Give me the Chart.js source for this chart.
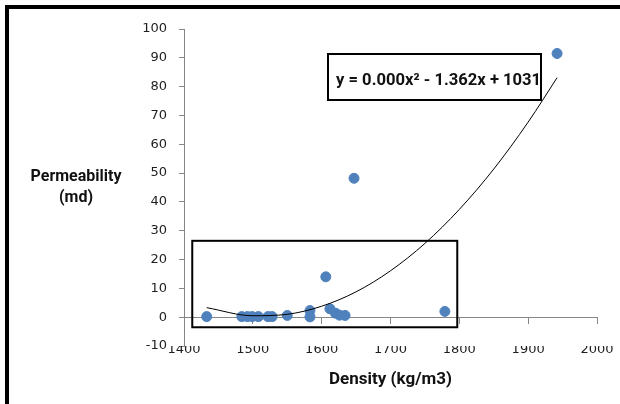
<!DOCTYPE html>
<html lang="en">
<head>
    <meta charset="UTF-8">
    <title>Permeability vs Density</title>
    <script src="https://cdn.jsdelivr.net/npm/chart.js"></script>
    <style>
        body {
            margin: 0;
            background: #fff;
        }
        .wrap {
            position: relative;
            width: 620px;
            height: 404px;
        }
        .frame {
            position: absolute;
            left: 5px;
            top: 5px;
            right: 0;
            bottom: 0;
            border-top: 4px solid #000;
            border-left: 4px solid #000;
            pointer-events: none;
        }
    </style>
</head>
<body>
    <div class="wrap">
        <canvas id="chart" width="620" height="404"></canvas>
        <div class="frame"></div>
    </div>
    <script>
        // measured samples
        const density = [1433, 1484, 1492, 1499, 1508, 1522, 1528, 1550, 1583, 1583, 1606, 1612, 1620, 1626, 1634, 1647, 1779, 1942];
        const permeability = [0.2, 0.2, 0.2, 0.2, 0.2, 0.2, 0.2, 0.6, 2.3, 0.1, 14.0, 2.9, 1.4, 0.7, 0.6, 48.2, 2.0, 91.5];

        // polynomial trendline
        const trendDensity = [1433, 1500, 1550, 1600, 1650, 1700, 1750, 1800, 1850, 1900, 1942];
        const trendPerm = [3.3, 0.5, 1.0, 3.8, 8.8, 16.1, 25.6, 37.4, 51.4, 67.7, 83.1];
        const equationText = 'y = 0.000x\u00b2 - 1.362x + 1031.';

        const xTickValues = [1400, 1500, 1600, 1700, 1800, 1900, 2000];
        const yTickValues = [-10, 0, 10, 20, 30, 40, 50, 60, 70, 80, 90, 100];

        // highlighted region (data units)
        const regionDensity = [1412, 1797];
        const regionPerm = [-3.5, 26.5];

        const axisGrey = '#868686';
        const tickFont = { family: 'DejaVu Sans', size: 13 };
        const tickColor = '#1e1e1e';

        const extras = {
            id: 'extras',
            afterDatasetsDraw(chart) {
                const ctx = chart.ctx;
                const x = chart.scales.x;
                const y = chart.scales.y;
                const area = chart.chartArea;
                ctx.save();

                // region rectangle
                const rx1 = x.getPixelForValue(regionDensity[0]);
                const rx2 = x.getPixelForValue(regionDensity[1]);
                const ry1 = y.getPixelForValue(regionPerm[1]);
                const ry2 = y.getPixelForValue(regionPerm[0]);
                ctx.strokeStyle = '#000';
                ctx.lineWidth = 2;
                ctx.strokeRect(rx1, ry1, rx2 - rx1, ry2 - ry1);

                // equation label
                const bx = area.left + 144, by = 54, bw = 213, bh = 46;
                ctx.fillStyle = '#fff';
                ctx.fillRect(bx, by, bw, bh);
                ctx.strokeRect(bx, by, bw, bh);
                ctx.beginPath();
                ctx.rect(bx, by, bw - 1, bh);
                ctx.clip();
                ctx.fillStyle = '#111';
                ctx.font = 'bold 16.6px Roboto';
                ctx.textBaseline = 'alphabetic';
                ctx.textAlign = 'left';
                ctx.fillText(equationText, bx + 8, by + 31);
                ctx.restore();

                // y title, horizontal on two lines
                ctx.save();
                ctx.fillStyle = '#111';
                ctx.font = 'bold 16px Roboto';
                ctx.textAlign = 'center';
                ctx.textBaseline = 'middle';
                ctx.fillText('Permeability', area.left - 108, 177);
                ctx.fillText('(md)', area.left - 108, 198);
                ctx.restore();
            }
        };

        new Chart(document.getElementById('chart'), {
            type: 'scatter',
            data: {
                datasets: [
                    {
                        label: 'Trend',
                        data: trendDensity.map((d, i) => ({ x: d, y: trendPerm[i] })),
                        showLine: true,
                        borderColor: '#000',
                        borderWidth: 1,
                        pointRadius: 0,
                        cubicInterpolationMode: 'monotone',
                        order: 0
                    },
                    {
                        label: 'Permeability',
                        data: density.map((d, i) => ({ x: d, y: permeability[i] })),
                        backgroundColor: '#4f81bd',
                        borderColor: '#4f81bd',
                        pointRadius: 5,
                        order: 1
                    }
                ]
            },
            options: {
                responsive: false,
                animation: false,
                layout: { padding: { left: 0, top: 29, right: 23, bottom: 0 } },
                plugins: {
                    legend: { display: false },
                    tooltip: { enabled: false }
                },
                scales: {
                    x: {
                        type: 'linear',
                        position: { y: 0 },
                        min: 1400,
                        max: 2000,
                        afterBuildTicks: s => { s.ticks = xTickValues.map(v => ({ value: v })); },
                        ticks: { display: false },
                        grid: { drawOnChartArea: false, drawTicks: true, tickLength: 6, color: axisGrey },
                        border: { color: axisGrey, width: 1 }
                    },
                    x2: {
                        type: 'linear',
                        position: 'bottom',
                        min: 1400,
                        max: 2000,
                        afterBuildTicks: s => { s.ticks = xTickValues.map(v => ({ value: v })); },
                        afterFit: s => { s.height = 58; },
                        ticks: { font: tickFont, color: tickColor, padding: -12, maxRotation: 0, callback: v => String(v) },
                        grid: { display: false },
                        border: { display: false },
                        title: {
                            display: true,
                            text: 'Density (kg/m3)',
                            font: { family: 'Roboto', size: 17, weight: 'bold' },
                            color: '#111',
                            padding: { top: 14, bottom: 14 }
                        }
                    },
                    y: {
                        type: 'linear',
                        position: 'left',
                        min: -10,
                        max: 100,
                        afterBuildTicks: s => { s.ticks = yTickValues.map(v => ({ value: v })); },
                        afterFit: s => { s.width = 184; },
                        ticks: { font: tickFont, color: tickColor, padding: 12, callback: v => String(v) },
                        grid: { drawOnChartArea: false, drawTicks: true, tickLength: 5, color: axisGrey },
                        border: { color: axisGrey, width: 1 }
                    }
                }
            },
            plugins: [extras]
        });
    </script>
</body>
</html>
